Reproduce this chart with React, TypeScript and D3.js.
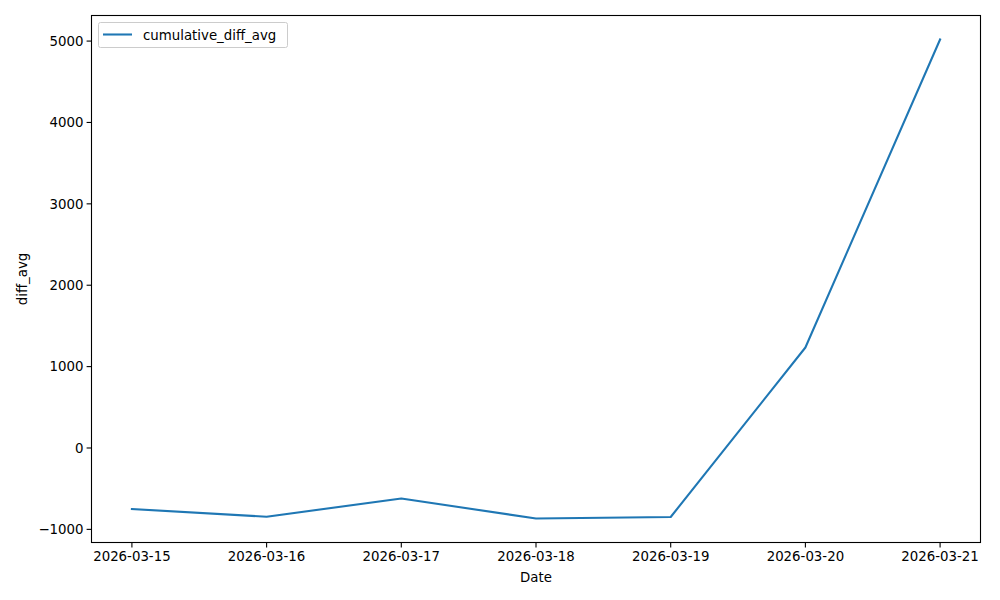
import React from "react";
import * as d3 from "d3";

const dates = ["2026-03-15", "2026-03-16", "2026-03-17", "2026-03-18", "2026-03-19", "2026-03-20", "2026-03-21"];
const values = [-750, -845, -620, -867, -848, 1235, 5020];
const yTicks = [-1000, 0, 1000, 2000, 3000, 4000, 5000];
const seriesName = "cumulative_diff_avg";

export default function App() {
  const W = 1000, H = 600;
  const left = 91.5, right = 980.5, top = 15.5, bottom = 542.5;
  const x = d3.scaleLinear().domain([-0.3, dates.length - 1 + 0.3]).range([left, right]);
  const yMin = d3.min(values)!, yMax = d3.max(values)!;
  const pad = (yMax - yMin) * 0.05;
  const y = d3.scaleLinear().domain([yMin - pad, yMax + pad]).range([bottom, top]);
  const line = d3.line<number>().x((_, i) => x(i)).y((d) => y(d));
  const font = "DejaVu Sans, sans-serif";
  return (
    <svg width={W} height={H} style={{ position: "absolute", left: 0, top: 0, background: "#fff" }} fontFamily={font}>
      <rect x={0} y={0} width={W} height={H} fill="#fff" />
      <path d={line(values)!} fill="none" stroke="#1f77b4" strokeWidth={2.08} strokeLinejoin="round" strokeLinecap="square" />
      <rect x={left} y={top} width={right - left} height={bottom - top} fill="none" stroke="#000" strokeWidth={1.1} />
      {dates.map((d, i) => (
        <g key={d}>
          <line x1={x(i)} x2={x(i)} y1={bottom} y2={bottom + 4.9} stroke="#000" strokeWidth={1.1} />
          <text x={x(i)} y={bottom + 18.5} textAnchor="middle" fontSize={13.33} fill="#000">{d}</text>
        </g>
      ))}
      {yTicks.map((t) => (
        <g key={t}>
          <line x1={left - 4.9} x2={left} y1={y(t)} y2={y(t)} stroke="#000" strokeWidth={1.1} />
          <text x={left - 8} y={y(t) + 4.8} textAnchor="end" fontSize={13.33} fill="#000">{t < 0 ? "\u2212" + Math.abs(t) : t}</text>
        </g>
      ))}
      <text x={(left + right) / 2} y={582} textAnchor="middle" fontSize={13.33} fill="#000">Date</text>
      <text transform={`translate(27,${(top + bottom) / 2}) rotate(-90)`} textAnchor="middle" fontSize={13.33} fill="#000">diff_avg</text>
      <rect x={98.5} y={22.5} width={189} height={25} rx={2} fill="#fff" fillOpacity={0.8} stroke="#ccc" strokeWidth={1} />
      <line x1={103} x2={132} y1={34.5} y2={34.5} stroke="#1f77b4" strokeWidth={2.08} />
      <text x={143} y={39.5} fontSize={13.33} fill="#000">{seriesName}</text>
    </svg>
  );
}
